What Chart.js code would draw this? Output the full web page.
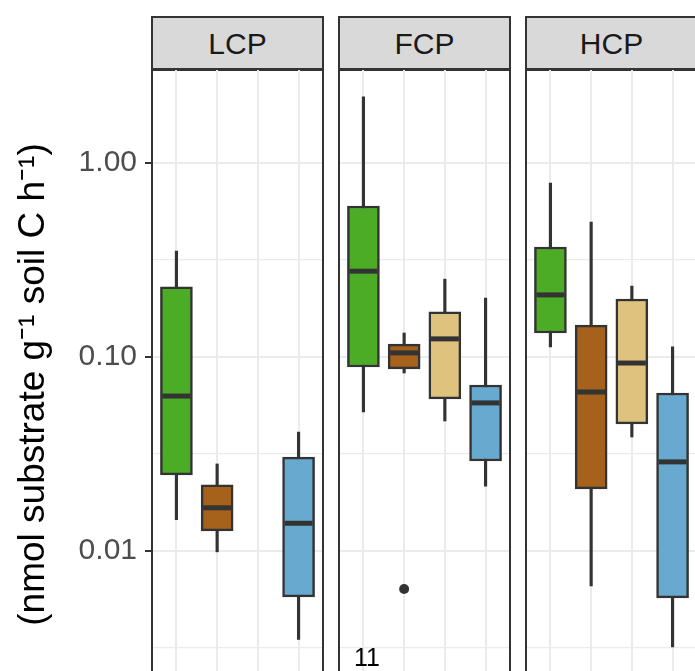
<!DOCTYPE html>
<html>
<head>
<meta charset="utf-8">
<script src="https://cdn.jsdelivr.net/npm/chart.js@4"></script>
<style>
    html, body { margin: 0; padding: 0; background: #fff; overflow: hidden; width: 695px; height: 671px; }
    canvas { position: absolute; }
    .strip {
        position: absolute; top: 16px; height: 51px; width: 169px;
        background: #d9d9d9; border: 2px solid #333;
        font: 30px "Liberation Sans", Arial, sans-serif; color: #1a1a1a;
        text-align: center; line-height: 51px;
    }
    .note { position: absolute; font: 25px "Liberation Sans", Arial, sans-serif; color: #000; }
</style>
</head>
<body>
<div class="strip" id="strip0" style="left:151px"></div>
<div class="strip" id="strip1" style="left:338px"></div>
<div class="strip" id="strip2" style="left:525px"></div>
<canvas id="panel0" width="325" height="633" style="left:0;top:67px"></canvas>
<canvas id="panel1" width="175" height="633" style="left:337px;top:67px"></canvas>
<canvas id="panel2" width="175" height="633" style="left:524px;top:67px"></canvas>
<div class="note" style="left:354px;top:643px">11</div>
<script>
document.addEventListener('DOMContentLoaded', () => {
    const panels = ['LCP', 'FCP', 'HCP'];
    const groupColors = ['#4dac26', '#a6611a', '#dfc27d', '#67a9cf'];

    // five-number summaries, one array per panel and stat
    const lcpMin = [0.0145, 0.0099, null, 0.0035];
    const lcpQ1 = [0.0247, 0.0127, null, 0.0058];
    const lcpMedian = [0.0629, 0.0167, null, 0.0139];
    const lcpQ3 = [0.230, 0.0219, null, 0.0305];
    const lcpMax = [0.352, 0.0281, null, 0.0410];

    const fcpMin = [0.0521, 0.0827, 0.0468, 0.0216];
    const fcpQ1 = [0.0888, 0.0868, 0.0608, 0.0291];
    const fcpMedian = [0.277, 0.105, 0.124, 0.0580];
    const fcpQ3 = [0.600, 0.1166, 0.171, 0.0717];
    const fcpMax = [2.19, 0.133, 0.252, 0.201];
    const fcpOutliers = [[], [0.00637], [], []];

    const hcpMin = [0.1127, 0.00661, 0.0387, 0.0032];
    const hcpQ1 = [0.133, 0.0209, 0.0452, 0.00573];
    const hcpMedian = [0.209, 0.0660, 0.0931, 0.0288];
    const hcpQ3 = [0.369, 0.146, 0.199, 0.0652];
    const hcpMax = [0.789, 0.496, 0.232, 0.1127];

    const yTicks = [0.01, 0.1, 1];
    const yTickLabels = ['0.01', '0.10', '1.00'];
    const yMinorTicks = [0.00316, 0.0316, 0.316];
    const yTitle = '(nmol substrate g\u207B\u00B9 soil C h\u207B\u00B9)';

    const panelStats = [
        [lcpMin, lcpQ1, lcpMedian, lcpQ3, lcpMax, [[], [], [], []]],
        [fcpMin, fcpQ1, fcpMedian, fcpQ3, fcpMax, fcpOutliers],
        [hcpMin, hcpQ1, hcpMedian, hcpQ3, hcpMax, [[], [], [], []]]
    ];

    const yMin = Math.pow(10, -1 - 343 / 194);
    const yMax = Math.pow(10, -1 + 288 / 194);
    const line = '#333333';

    const borderPlugin = {
        id: 'panelBorder',
        afterDraw(chart) {
            const a = chart.chartArea;
            const ctx = chart.ctx;
            ctx.save();
            ctx.strokeStyle = line;
            ctx.lineWidth = 2;
            ctx.strokeRect(a.left, a.top, a.right - a.left, a.bottom - a.top);
            ctx.restore();
        }
    };

    panels.forEach((name, p) => {
        document.getElementById('strip' + p).textContent = name;
        const [mins, q1s, meds, q3s, maxs, outs] = panelStats[p];
        const xs = [1, 2, 3, 4];
        const present = xs.map((x, i) => q1s[i] !== null);

        const whiskers = [], boxes = [], boxColors = [], medians = [], outliers = [];
        xs.forEach((x, i) => {
            if (!present[i]) return;
            whiskers.push({ x: x, y: [mins[i], maxs[i]] });
            boxes.push({ x: x, y: [q1s[i], q3s[i]] });
            boxColors.push(groupColors[i]);
            medians.push({ x: x, y: meds[i] });
            outs[i].forEach(v => outliers.push({ x: x, y: v }));
        });

        const first = p === 0;
        new Chart(document.getElementById('panel' + p), {
            type: 'bar',
            data: {
                datasets: [
                    {
                        type: 'scatter', data: medians, order: 0,
                        pointStyle: 'line', pointRadius: 14, pointBorderWidth: 5,
                        pointBorderColor: line, pointBackgroundColor: line
                    },
                    {
                        type: 'scatter', data: outliers, order: 0,
                        pointStyle: 'circle', pointRadius: 5, pointBorderWidth: 0,
                        pointBackgroundColor: line
                    },
                    {
                        data: boxes, order: 1, grouped: false,
                        barThickness: 32, backgroundColor: boxColors,
                        borderColor: line, borderWidth: 2.5, borderSkipped: false
                    },
                    {
                        data: whiskers, order: 2, grouped: false,
                        barThickness: 2.5, backgroundColor: line, borderWidth: 0
                    }
                ]
            },
            options: {
                responsive: false,
                devicePixelRatio: 1,
                animation: false,
                layout: { autoPadding: false, padding: { left: first ? 0 : 2, right: 2, top: 2, bottom: 0 } },
                plugins: { legend: { display: false }, tooltip: { enabled: false } },
                scales: {
                    x: {
                        type: 'linear', min: 0.4, max: 4.6, offset: false,
                        afterBuildTicks: s => { s.ticks = xs.map(v => ({ value: v })); },
                        afterFit: s => { s.height = 0; s.paddingLeft = 0; s.paddingRight = 0; },
                        ticks: { display: false },
                        border: { display: false },
                        grid: { color: '#ebebeb', lineWidth: 2, drawTicks: false, offset: false }
                    },
                    y: {
                        type: 'logarithmic', min: yMin, max: yMax,
                        afterBuildTicks: s => {
                            s.ticks = yMinorTicks.concat(yTicks).sort((a, b) => a - b).map(v => ({ value: v }));
                        },
                        afterFit: s => { s.width = first ? 152 : 0; s.paddingTop = 0; s.paddingBottom = 0; },
                        border: { display: false },
                        grid: {
                            color: '#ebebeb',
                            lineWidth: c => (yTicks.includes(c.tick.value) ? 2 : 1.2),
                            drawTicks: first,
                            tickLength: 7,
                            tickWidth: 2,
                            tickColor: c => (yTicks.includes(c.tick.value) ? line : 'rgba(0,0,0,0)')
                        },
                        ticks: {
                            display: first,
                            padding: 8,
                            color: '#4d4d4d',
                            font: { family: '"Liberation Sans", Arial, sans-serif', size: 30 },
                            callback: v => {
                                const k = yTicks.indexOf(v);
                                return k >= 0 ? yTickLabels[k] : '';
                            }
                        },
                        title: {
                            display: first,
                            text: yTitle,
                            color: '#000',
                            padding: { top: 12, bottom: 0 },
                            font: { family: '"Liberation Sans", Arial, sans-serif', size: 37 }
                        }
                    }
                }
            },
            plugins: [borderPlugin]
        });
    });
});
</script>
</body>
</html>
